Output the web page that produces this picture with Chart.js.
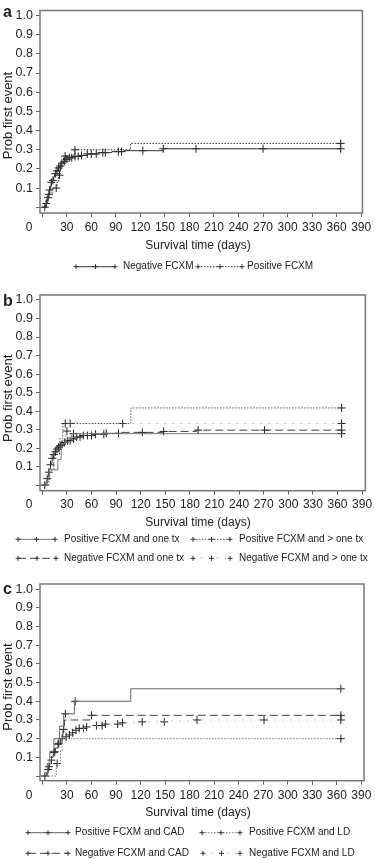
<!DOCTYPE html>
<html><head><meta charset="utf-8">
<script src="https://cdn.jsdelivr.net/npm/chart.js@4.4.1/dist/chart.umd.min.js"></script>
<style>
html,body{margin:0;padding:0;background:#fff;width:375px;height:859px;overflow:hidden}
.p{position:absolute;left:0;width:375px}
canvas{display:block}
</style></head><body>
<div class="p" style="top:0;height:280px"><canvas id="ca"></canvas></div>
<div class="p" style="top:280px;height:290px"><canvas id="cb"></canvas></div>
<div class="p" style="top:570px;height:289px"><canvas id="cc"></canvas></div>
<script>
// ---------- tick labels ----------
const xTicks = [0, 30, 60, 90, 120, 150, 180, 210, 240, 270, 300, 330, 360, 390];
const yTicks = [0, 0.1, 0.2, 0.3, 0.4, 0.5, 0.6, 0.7, 0.8, 0.9, 1.0];
const xTitle = 'Survival time (days)';
const yTitle = 'Prob first event';

// ---------- panel a ----------
const aNegT = [0, 4, 5, 6, 7, 8, 9, 10, 11, 12, 14, 15, 17, 19, 21, 23, 26, 29, 33, 38, 45, 55, 68, 85, 100, 148];
const aNegP = [0, 0.01, 0.02, 0.035, 0.05, 0.07, 0.09, 0.11, 0.13, 0.14, 0.16, 0.175, 0.19, 0.205, 0.215, 0.23, 0.24, 0.25, 0.258, 0.265, 0.27, 0.278, 0.285, 0.29, 0.295, 0.305];
const aNegCens = [3, 5, 7, 9, 11, 13, 16, 18, 20, 22, 24, 27, 30, 33, 36, 40, 44, 48, 55, 60, 66, 74, 77, 93, 97, 123, 148, 188, 270, 365];
const aPosT = [0, 4, 6, 12, 18, 20, 22, 24, 26, 39, 108];
const aPosP = [0, 0.033, 0.067, 0.1, 0.133, 0.167, 0.2, 0.233, 0.267, 0.3, 0.333];
const aPosCens = [8, 17, 21, 28, 40, 365];

// ---------- panel b ----------
const bPos1T = [0, 6, 9, 19, 23, 28, 36];
const bPos1P = [0, 0.028, 0.083, 0.139, 0.222, 0.25, 0.278];
const bPos1Cens = [38, 365];
const bPos2T = [0, 8, 14, 21, 25, 108];
const bPos2P = [0, 0.083, 0.167, 0.25, 0.333, 0.417];
const bPos2Cens = [28, 98, 365];
const bNeg1T = [0, 4, 5, 6, 7, 8, 9, 10, 11, 12, 14, 15, 17, 19, 21, 23, 26, 30, 35, 42, 50, 62, 78, 95, 148, 188];
const bNeg1P = [0, 0.01, 0.02, 0.035, 0.05, 0.07, 0.09, 0.11, 0.13, 0.145, 0.165, 0.18, 0.195, 0.205, 0.213, 0.22, 0.23, 0.24, 0.25, 0.26, 0.268, 0.275, 0.28, 0.285, 0.29, 0.297];
const bNeg1Cens = [3, 6, 8, 10, 12, 14, 16, 18, 20, 22, 24, 27, 31, 34, 38, 42, 46, 50, 55, 60, 65, 75, 78, 93, 122, 148, 190, 271, 365];
const bNeg2T = [0, 5, 9, 13, 17, 21, 25, 29, 33];
const bNeg2P = [0, 0.042, 0.083, 0.125, 0.167, 0.208, 0.25, 0.292, 0.333];
const bNeg2Cens = [30, 34, 365];

// ---------- panel c ----------
const cPosCadT = [0, 6, 9, 14, 21, 26, 39, 108];
const cPosCadP = [0, 0.067, 0.133, 0.2, 0.267, 0.333, 0.4, 0.467];
const cPosCadCens = [28, 40, 365];
const cPosLdT = [0, 17, 22, 24];
const cPosLdP = [0, 0.067, 0.133, 0.2];
const cPosLdCens = [18, 365];
const cNegCadT = [0, 5, 7, 9, 11, 13, 16, 19, 22, 25, 27, 60];
const cNegCadP = [0, 0.025, 0.05, 0.075, 0.1, 0.125, 0.15, 0.175, 0.2, 0.25, 0.3, 0.325];
const cNegCadCens = [8, 14, 20, 26, 60, 365];
const cNegLdT = [0, 4, 6, 8, 10, 12, 14, 16, 18, 20, 23, 26, 30, 34, 38, 44, 52, 62, 75, 95, 120, 150, 188];
const cNegLdP = [0, 0.015, 0.035, 0.06, 0.085, 0.11, 0.13, 0.15, 0.17, 0.185, 0.2, 0.21, 0.22, 0.232, 0.245, 0.255, 0.263, 0.27, 0.278, 0.285, 0.29, 0.295, 0.3];
const cNegLdCens = [3, 7, 11, 15, 19, 24, 29, 33, 37, 41, 45, 50, 54, 66, 73, 77, 92, 98, 122, 149, 189, 271, 365];

// ---------- helpers ----------
const FONT = "'Liberation Sans', Arial, Helvetica, sans-serif";
const TXT = '#222';
function stepData(T, P, end) {
  const d = T.map((t, i) => ({x: t, y: P[i]}));
  d.push({x: end, y: P[P.length - 1]});
  return d;
}
function valAt(T, P, t) { let v = 0; for (let i = 0; i < T.length; i++) if (T[i] <= t) v = P[i]; return v; }
function cens(T, P, C) { return C.map(t => ({x: t, y: valAt(T, P, t)})); }

const STY = {
  solid:  {dash: [], w: 1},
  dotted: {dash: [1.5, 1.5], w: 1},
  dashed: {dash: [8, 4], w: 1},
  sparse: {dash: [1, 7], w: 1}
};

function drawCross(ctx, x, y, r) {
  ctx.beginPath(); ctx.moveTo(x - r, y); ctx.lineTo(x + r, y); ctx.moveTo(x, y - r); ctx.lineTo(x, y + r); ctx.stroke();
}

const deco = {
  id: 'deco',
  beforeDatasetsDraw(chart, args, o) {
    const a = chart.chartArea, ctx = chart.ctx;
    ctx.save();
    ctx.strokeStyle = '#777'; ctx.lineWidth = 1.5;
    ctx.strokeRect(a.left, a.top, a.right - a.left, a.bottom - a.top);
    ctx.restore();
  },
  afterDraw(chart, args, o) {
    const ctx = chart.ctx;
    ctx.save();
    ctx.fillStyle = TXT;
    ctx.font = 'bold 16px ' + FONT; ctx.textAlign = 'left'; ctx.textBaseline = 'alphabetic';
    ctx.fillText(o.letter, 3, o.letterY);
    ctx.font = '12px ' + FONT; ctx.textAlign = 'center'; ctx.textBaseline = 'middle';
    ctx.fillText('0', 29, o.zeroY);
    ctx.fillText(xTitle, 198, o.xTitleY);
    ctx.save(); ctx.translate(8.5, o.yTitleY); ctx.rotate(-Math.PI / 2);
    ctx.font = '13px ' + FONT; ctx.fillText(yTitle, 0, 0); ctx.restore();
    o.legend.forEach(L => {
      const s = STY[L.style];
      ctx.strokeStyle = L.color; ctx.lineWidth = 1; ctx.setLineDash(s.dash);
      ctx.beginPath(); ctx.moveTo(L.x1, L.y); ctx.lineTo(L.x2, L.y); ctx.stroke();
      ctx.setLineDash([]); ctx.strokeStyle = '#333';
      [L.x1, (L.x1 + L.x2) / 2, L.x2].forEach(x => drawCross(ctx, x, L.y, 2.5));
      ctx.fillStyle = TXT; ctx.font = '10px ' + FONT; ctx.textAlign = 'left'; ctx.textBaseline = 'middle';
      ctx.fillText(L.text, L.tx, L.y);
    });
    ctx.restore();
  }
};

function makePanel(id, spec) {
  const datasets = [];
  spec.series.forEach(s => {
    const st = STY[s.style];
    datasets.push({
      data: stepData(s.T, s.P, 365), stepped: true, borderColor: s.color, borderWidth: st.w,
      borderDash: st.dash, pointRadius: 0, fill: false, tension: 0
    });
    datasets.push({
      data: cens(s.T, s.P, s.C), showLine: false, pointStyle: 'cross', pointRadius: 4,
      pointBorderColor: '#222', borderColor: '#222', pointBorderWidth: 1, pointHoverRadius: 0
    });
  });
  new Chart(document.getElementById(id), {
    type: 'line',
    data: {datasets},
    options: {
      responsive: true, maintainAspectRatio: false, animation: false,
      layout: {padding: {left: 0, top: spec.top, right: spec.right, bottom: 0}},
      plugins: {legend: {display: false}, tooltip: {enabled: false}, deco: spec.deco},
      scales: {
        x: {
          type: 'linear', min: spec.xmin, max: spec.xmax,
          afterBuildTicks: sc => { sc.ticks = xTicks.map(v => ({value: v})); },
          afterFit: sc => { sc.height = spec.xh; },
          ticks: {autoSkip: false, maxRotation: 0, padding: spec.xpad, color: TXT,
            font: {family: FONT, size: 12}, callback: v => v === 0 ? '' : String(v)},
          grid: {drawOnChartArea: false, drawTicks: true, tickLength: 4, color: '#666'},
          border: {display: false}
        },
        y: {
          type: 'linear', min: spec.ymin, max: spec.ymax,
          afterBuildTicks: sc => { sc.ticks = yTicks.map(v => ({value: v})); },
          afterFit: sc => { sc.width = 40; },
          ticks: {autoSkip: false, padding: 3, color: TXT, font: {family: FONT, size: 12.5},
            callback: v => v === 0 ? '' : Number(v).toFixed(1)},
          grid: {drawOnChartArea: false, drawTicks: true, tickLength: 4, color: '#666'},
          border: {display: false}
        }
      }
    },
    plugins: [deco]
  });
}

makePanel('ca', {
  top: 9, right: 12, xh: 67, xpad: 3.8, xmin: -2.8, xmax: 391.6, ymin: -0.03, ymax: 1.026,
  series: [
    {T: aNegT, P: aNegP, C: aNegCens, style: 'solid', color: '#333'},
    {T: aPosT, P: aPosP, C: aPosCens, style: 'dotted', color: '#333'}
  ],
  deco: {letter: 'a', letterY: 16.7, zeroY: 228, xTitleY: 245.7, yTitleY: 115.5,
    legend: [
      {style: 'solid', color: '#333', x1: 76, x2: 115, y: 266.7, tx: 123, text: 'Negative FCXM'},
      {style: 'dotted', color: '#333', x1: 198, x2: 242, y: 266.7, tx: 247, text: 'Positive FCXM'}
    ]}
});

makePanel('cb', {
  top: 15, right: 9, xh: 79.3, xpad: 2.8, xmin: -2.8, xmax: 394, ymin: -0.03, ymax: 1.027,
  series: [
    {T: bPos1T, P: bPos1P, C: bPos1Cens, style: 'solid', color: '#777'},
    {T: bPos2T, P: bPos2P, C: bPos2Cens, style: 'dotted', color: '#555'},
    {T: bNeg1T, P: bNeg1P, C: bNeg1Cens, style: 'dashed', color: '#444'},
    {T: bNeg2T, P: bNeg2P, C: bNeg2Cens, style: 'sparse', color: '#888'}
  ],
  deco: {letter: 'b', letterY: 26, zeroY: 224.7, xTitleY: 242.7, yTitleY: 118.3,
    legend: [
      {style: 'solid', color: '#777', x1: 18, x2: 55, y: 259.3, tx: 64, text: 'Positive FCXM and one tx'},
      {style: 'dotted', color: '#555', x1: 193, x2: 230, y: 259.3, tx: 239, text: 'Positive FCXM and > one tx'},
      {style: 'dashed', color: '#444', x1: 18, x2: 56, y: 278.3, tx: 64, text: 'Negative FCXM and one tx'},
      {style: 'sparse', color: '#888', x1: 193, x2: 230, y: 278.3, tx: 239, text: 'Negative FCXM and > one tx'}
    ]}
});

makePanel('cc', {
  top: 14, right: 7.3, xh: 78.3, xpad: 3.6, xmin: -3, xmax: 393.3, ymin: -0.025, ymax: 1.028,
  series: [
    {T: cPosCadT, P: cPosCadP, C: cPosCadCens, style: 'solid', color: '#666'},
    {T: cPosLdT, P: cPosLdP, C: cPosLdCens, style: 'dotted', color: '#777'},
    {T: cNegCadT, P: cNegCadP, C: cNegCadCens, style: 'dashed', color: '#444'},
    {T: cNegLdT, P: cNegLdP, C: cNegLdCens, style: 'sparse', color: '#999'}
  ],
  deco: {letter: 'c', letterY: 24, zeroY: 225.5, xTitleY: 243, yTitleY: 117,
    legend: [
      {style: 'solid', color: '#666', x1: 28, x2: 68, y: 262.7, tx: 75, text: 'Positive FCXM and CAD'},
      {style: 'dotted', color: '#777', x1: 202, x2: 240, y: 262.7, tx: 249, text: 'Positive FCXM and LD'},
      {style: 'dashed', color: '#444', x1: 28, x2: 68, y: 283.3, tx: 75, text: 'Negative FCXM and CAD'},
      {style: 'sparse', color: '#999', x1: 203, x2: 240, y: 283.3, tx: 249, text: 'Negative FCXM and LD'}
    ]}
});
</script>
</body></html>
